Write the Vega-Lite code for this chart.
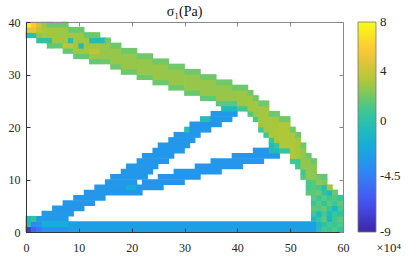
{
  "$schema": "https://vega.github.io/schema/vega-lite/v6.json",
  "width": 317,
  "height": 210,
  "autosize": {"type": "none"},
  "padding": {"left": 26, "top": 22, "right": 68, "bottom": 25},
  "background": "white",
  "config": {"font": "Liberation Serif", "view": {"stroke": null}},
  "title": {"text": "σ₁(Pa)", "fontSize": 14, "fontWeight": "normal", "font": "Liberation Serif", "color": "#111", "offset": 1, "dy": 4, "frame": "group", "anchor": "middle"},
  "data": {"values": [
    {"x0":0,"x1":1,"y0":0,"y1":1,"v":-7.8},
    {"x0":1,"x1":2,"y0":0,"y1":1,"v":-5.8},
    {"x0":2,"x1":3,"y0":0,"y1":1,"v":-4.8},
    {"x0":3,"x1":8,"y0":0,"y1":1,"v":-3.7},
    {"x0":0,"x1":1,"y0":1,"y1":2,"v":-0.6},
    {"x0":1,"x1":2,"y0":1,"y1":2,"v":-4.2},
    {"x0":2,"x1":3,"y0":1,"y1":2,"v":-3.6},
    {"x0":3,"x1":8,"y0":1,"y1":2,"v":-1.8},
    {"x0":8,"x1":55,"y0":0,"y1":2,"v":-2.7},
    {"x0":0,"x1":1,"y0":2,"y1":3,"v":-0.6},
    {"x0":1,"x1":2,"y0":2,"y1":3,"v":0.3},
    {"x0":2,"x1":8,"y0":2,"y1":3,"v":-3.0},
    {"x0":3,"x1":9,"y0":3,"y1":4,"v":-3.1},
    {"x0":5,"x1":11,"y0":4,"y1":5,"v":-3.2},
    {"x0":7,"x1":13,"y0":5,"y1":6,"v":-3.2},
    {"x0":9,"x1":15,"y0":6,"y1":7,"v":-3.2},
    {"x0":11,"x1":22,"y0":7,"y1":8,"v":-3.2},
    {"x0":13,"x1":19,"y0":8,"y1":9,"v":-3.2},
    {"x0":19,"x1":21,"y0":8,"y1":9,"v":-2.0},
    {"x0":21,"x1":26,"y0":8,"y1":9,"v":-3.3},
    {"x0":15,"x1":21,"y0":9,"y1":10,"v":-3.1},
    {"x0":22,"x1":30,"y0":9,"y1":10,"v":-3.4},
    {"x0":16,"x1":23,"y0":10,"y1":11,"v":-3.2},
    {"x0":25,"x1":33,"y0":10,"y1":11,"v":-3.4},
    {"x0":18,"x1":24,"y0":11,"y1":12,"v":-3.2},
    {"x0":28,"x1":37,"y0":11,"y1":12,"v":-3.3},
    {"x0":19,"x1":25,"y0":12,"y1":13,"v":-3.2},
    {"x0":32,"x1":41,"y0":12,"y1":13,"v":-3.3},
    {"x0":21,"x1":27,"y0":13,"y1":14,"v":-3.2},
    {"x0":35,"x1":45,"y0":13,"y1":14,"v":-3.3},
    {"x0":22,"x1":28,"y0":14,"y1":15,"v":-3.2},
    {"x0":39,"x1":48,"y0":14,"y1":15,"v":-3.3},
    {"x0":24,"x1":30,"y0":15,"y1":16,"v":-3.2},
    {"x0":43,"x1":46,"y0":15,"y1":16,"v":-3.3},
    {"x0":46,"x1":48,"y0":15,"y1":16,"v":-0.8},
    {"x0":25,"x1":31,"y0":16,"y1":17,"v":-3.2},
    {"x0":46,"x1":47,"y0":16,"y1":17,"v":-0.8},
    {"x0":27,"x1":32,"y0":17,"y1":18,"v":-3.2},
    {"x0":28,"x1":33,"y0":18,"y1":19,"v":-3.2},
    {"x0":30,"x1":31,"y0":19,"y1":20,"v":-0.2},
    {"x0":31,"x1":35,"y0":19,"y1":20,"v":-3.2},
    {"x0":31,"x1":37,"y0":20,"y1":21,"v":-3.4},
    {"x0":33,"x1":35,"y0":21,"y1":22,"v":-0.6},
    {"x0":35,"x1":39,"y0":21,"y1":22,"v":-3.1},
    {"x0":35,"x1":40,"y0":22,"y1":23,"v":-3.0},
    {"x0":37,"x1":40,"y0":23,"y1":24,"v":-1.0},
    {"x0":0,"x1":1,"y0":37,"y1":38,"v":-0.5},
    {"x0":0,"x1":1,"y0":38,"y1":39,"v":4.8},
    {"x0":0,"x1":1,"y0":39,"y1":40,"v":7.5},
    {"x0":1,"x1":2,"y0":37,"y1":38,"v":-0.3},
    {"x0":1,"x1":2,"y0":38,"y1":39,"v":5.0},
    {"x0":1,"x1":2,"y0":39,"y1":40,"v":5.8},
    {"x0":2,"x1":3,"y0":36,"y1":37,"v":0.2},
    {"x0":2,"x1":3,"y0":37,"y1":38,"v":2.5},
    {"x0":2,"x1":3,"y0":38,"y1":39,"v":3.6},
    {"x0":2,"x1":3,"y0":39,"y1":40,"v":4.2},
    {"x0":3,"x1":4,"y0":36,"y1":37,"v":0.2},
    {"x0":3,"x1":4,"y0":37,"y1":38,"v":3.0},
    {"x0":3,"x1":4,"y0":38,"y1":39,"v":3.2},
    {"x0":3,"x1":4,"y0":39,"y1":40,"v":3.0},
    {"x0":4,"x1":5,"y0":35,"y1":36,"v":1.6},
    {"x0":4,"x1":5,"y0":36,"y1":37,"v":0.2},
    {"x0":4,"x1":5,"y0":37,"y1":39,"v":2.9},
    {"x0":4,"x1":5,"y0":39,"y1":40,"v":1.8},
    {"x0":5,"x1":7,"y0":35,"y1":36,"v":1.6},
    {"x0":5,"x1":7,"y0":36,"y1":39,"v":2.9},
    {"x0":5,"x1":7,"y0":39,"y1":40,"v":1.8},
    {"x0":7,"x1":8,"y0":34,"y1":35,"v":1.6},
    {"x0":7,"x1":8,"y0":35,"y1":36,"v":3.6},
    {"x0":7,"x1":8,"y0":36,"y1":39,"v":2.9},
    {"x0":7,"x1":8,"y0":39,"y1":40,"v":1.8},
    {"x0":8,"x1":9,"y0":34,"y1":35,"v":1.6},
    {"x0":8,"x1":9,"y0":35,"y1":36,"v":3.6},
    {"x0":8,"x1":9,"y0":36,"y1":37,"v":-0.6},
    {"x0":8,"x1":9,"y0":37,"y1":38,"v":2.9},
    {"x0":8,"x1":9,"y0":38,"y1":39,"v":1.8},
    {"x0":9,"x1":10,"y0":33,"y1":34,"v":1.6},
    {"x0":9,"x1":10,"y0":34,"y1":38,"v":2.9},
    {"x0":9,"x1":10,"y0":38,"y1":39,"v":1.8},
    {"x0":10,"x1":11,"y0":33,"y1":34,"v":1.6},
    {"x0":10,"x1":11,"y0":34,"y1":35,"v":2.9},
    {"x0":10,"x1":11,"y0":35,"y1":36,"v":-0.8},
    {"x0":10,"x1":11,"y0":36,"y1":38,"v":2.9},
    {"x0":10,"x1":11,"y0":38,"y1":39,"v":1.8},
    {"x0":11,"x1":12,"y0":33,"y1":34,"v":1.6},
    {"x0":11,"x1":12,"y0":34,"y1":37,"v":2.9},
    {"x0":11,"x1":12,"y0":37,"y1":38,"v":1.8},
    {"x0":12,"x1":14,"y0":32,"y1":33,"v":1.6},
    {"x0":12,"x1":14,"y0":33,"y1":34,"v":2.9},
    {"x0":12,"x1":14,"y0":34,"y1":35,"v":3.5},
    {"x0":12,"x1":14,"y0":35,"y1":36,"v":2.9},
    {"x0":12,"x1":13,"y0":36,"y1":37,"v":-0.4},
    {"x0":13,"x1":14,"y0":36,"y1":37,"v":-0.8},
    {"x0":12,"x1":14,"y0":37,"y1":38,"v":1.8},
    {"x0":14,"x1":16,"y0":32,"y1":33,"v":1.8},
    {"x0":14,"x1":16,"y0":33,"y1":36,"v":2.7},
    {"x0":14,"x1":15,"y0":36,"y1":37,"v":-0.6},
    {"x0":15,"x1":16,"y0":36,"y1":37,"v":1.9},
    {"x0":16,"x1":18,"y0":31,"y1":32,"v":1.8},
    {"x0":16,"x1":18,"y0":32,"y1":35,"v":2.7},
    {"x0":16,"x1":18,"y0":35,"y1":36,"v":1.9},
    {"x0":18,"x1":21,"y0":30,"y1":31,"v":1.8},
    {"x0":18,"x1":21,"y0":31,"y1":34,"v":2.7},
    {"x0":18,"x1":21,"y0":34,"y1":35,"v":1.9},
    {"x0":21,"x1":24,"y0":29,"y1":30,"v":1.8},
    {"x0":21,"x1":24,"y0":30,"y1":33,"v":2.7},
    {"x0":21,"x1":24,"y0":33,"y1":34,"v":1.9},
    {"x0":24,"x1":27,"y0":28,"y1":29,"v":1.8},
    {"x0":24,"x1":27,"y0":29,"y1":32,"v":2.7},
    {"x0":24,"x1":27,"y0":32,"y1":33,"v":1.9},
    {"x0":27,"x1":30,"y0":27,"y1":28,"v":1.8},
    {"x0":27,"x1":30,"y0":28,"y1":31,"v":2.7},
    {"x0":27,"x1":30,"y0":31,"y1":32,"v":1.9},
    {"x0":30,"x1":33,"y0":26,"y1":27,"v":1.7},
    {"x0":30,"x1":33,"y0":27,"y1":30,"v":2.7},
    {"x0":30,"x1":33,"y0":30,"y1":31,"v":1.9},
    {"x0":33,"x1":36,"y0":25,"y1":26,"v":1.6},
    {"x0":33,"x1":36,"y0":26,"y1":29,"v":2.7},
    {"x0":33,"x1":36,"y0":29,"y1":30,"v":1.9},
    {"x0":36,"x1":39,"y0":24,"y1":25,"v":1.4},
    {"x0":36,"x1":39,"y0":25,"y1":28,"v":2.7},
    {"x0":36,"x1":39,"y0":28,"y1":29,"v":1.9},
    {"x0":39,"x1":40,"y0":24,"y1":25,"v":1.4},
    {"x0":39,"x1":40,"y0":25,"y1":27,"v":2.7},
    {"x0":39,"x1":40,"y0":27,"y1":28,"v":1.9},
    {"x0":40,"x1":42,"y0":23,"y1":24,"v":0.8},
    {"x0":40,"x1":42,"y0":24,"y1":27,"v":2.8},
    {"x0":40,"x1":42,"y0":27,"y1":28,"v":1.9},
    {"x0":42,"x1":43,"y0":22,"y1":23,"v":1.2},
    {"x0":42,"x1":43,"y0":23,"y1":26,"v":2.9},
    {"x0":42,"x1":43,"y0":26,"y1":27,"v":1.9},
    {"x0":43,"x1":44,"y0":21,"y1":22,"v":1.0},
    {"x0":43,"x1":44,"y0":22,"y1":25,"v":2.9},
    {"x0":43,"x1":44,"y0":25,"y1":26,"v":1.9},
    {"x0":44,"x1":45,"y0":19,"y1":20,"v":0.8},
    {"x0":44,"x1":45,"y0":20,"y1":24,"v":3.0},
    {"x0":44,"x1":45,"y0":24,"y1":25,"v":1.9},
    {"x0":45,"x1":46,"y0":18,"y1":19,"v":0.8},
    {"x0":45,"x1":46,"y0":19,"y1":24,"v":3.0},
    {"x0":45,"x1":46,"y0":24,"y1":25,"v":1.9},
    {"x0":46,"x1":47,"y0":17,"y1":18,"v":0.6},
    {"x0":46,"x1":47,"y0":18,"y1":22,"v":3.1},
    {"x0":46,"x1":47,"y0":22,"y1":23,"v":1.9},
    {"x0":47,"x1":48,"y0":16,"y1":17,"v":0.4},
    {"x0":47,"x1":48,"y0":17,"y1":22,"v":3.1},
    {"x0":47,"x1":48,"y0":22,"y1":23,"v":1.9},
    {"x0":48,"x1":50,"y0":15,"y1":16,"v":0.4},
    {"x0":48,"x1":50,"y0":16,"y1":21,"v":3.3},
    {"x0":48,"x1":50,"y0":21,"y1":22,"v":1.9},
    {"x0":50,"x1":51,"y0":13,"y1":14,"v":1.0},
    {"x0":50,"x1":51,"y0":14,"y1":19,"v":3.3},
    {"x0":50,"x1":51,"y0":19,"y1":20,"v":1.9},
    {"x0":51,"x1":52,"y0":12,"y1":13,"v":1.0},
    {"x0":51,"x1":52,"y0":13,"y1":14,"v":0.8},
    {"x0":51,"x1":52,"y0":14,"y1":18,"v":3.0},
    {"x0":51,"x1":52,"y0":18,"y1":19,"v":1.9},
    {"x0":52,"x1":53,"y0":10,"y1":11,"v":1.2},
    {"x0":52,"x1":53,"y0":11,"y1":12,"v":0.9},
    {"x0":52,"x1":53,"y0":12,"y1":16,"v":2.6},
    {"x0":52,"x1":53,"y0":16,"y1":17,"v":1.9},
    {"x0":53,"x1":54,"y0":7,"y1":8,"v":1.5},
    {"x0":53,"x1":54,"y0":8,"y1":10,"v":1.0},
    {"x0":53,"x1":54,"y0":10,"y1":14,"v":2.6},
    {"x0":53,"x1":54,"y0":14,"y1":15,"v":1.8},
    {"x0":54,"x1":55,"y0":2,"y1":3,"v":-0.8},
    {"x0":54,"x1":55,"y0":3,"y1":4,"v":0.8},
    {"x0":54,"x1":55,"y0":4,"y1":5,"v":1.5},
    {"x0":54,"x1":55,"y0":5,"y1":6,"v":0.5},
    {"x0":54,"x1":55,"y0":6,"y1":10,"v":1.4},
    {"x0":54,"x1":55,"y0":10,"y1":13,"v":2.5},
    {"x0":54,"x1":55,"y0":13,"y1":14,"v":1.8},
    {"x0":55,"x1":56,"y0":0,"y1":1,"v":-0.5},
    {"x0":55,"x1":56,"y0":1,"y1":2,"v":-0.8},
    {"x0":55,"x1":56,"y0":2,"y1":3,"v":0.3},
    {"x0":55,"x1":56,"y0":3,"y1":4,"v":-1.0},
    {"x0":55,"x1":56,"y0":4,"y1":5,"v":1.2},
    {"x0":55,"x1":56,"y0":5,"y1":6,"v":1.5},
    {"x0":55,"x1":56,"y0":6,"y1":7,"v":0.5},
    {"x0":55,"x1":56,"y0":7,"y1":8,"v":2.0},
    {"x0":55,"x1":56,"y0":8,"y1":9,"v":1.0},
    {"x0":55,"x1":56,"y0":9,"y1":10,"v":2.6},
    {"x0":55,"x1":56,"y0":10,"y1":11,"v":1.9},
    {"x0":56,"x1":57,"y0":0,"y1":1,"v":1.0},
    {"x0":56,"x1":57,"y0":1,"y1":2,"v":0.2},
    {"x0":56,"x1":57,"y0":2,"y1":3,"v":1.5},
    {"x0":56,"x1":57,"y0":3,"y1":4,"v":1.0},
    {"x0":56,"x1":57,"y0":4,"y1":5,"v":1.8},
    {"x0":56,"x1":57,"y0":5,"y1":6,"v":0.3},
    {"x0":56,"x1":57,"y0":6,"y1":7,"v":1.5},
    {"x0":56,"x1":57,"y0":7,"y1":8,"v":0.2},
    {"x0":56,"x1":57,"y0":8,"y1":9,"v":-0.5},
    {"x0":56,"x1":57,"y0":9,"y1":10,"v":2.2},
    {"x0":56,"x1":57,"y0":10,"y1":11,"v":1.6},
    {"x0":57,"x1":58,"y0":0,"y1":1,"v":0.5},
    {"x0":57,"x1":58,"y0":1,"y1":2,"v":1.0},
    {"x0":57,"x1":58,"y0":2,"y1":3,"v":-1.3},
    {"x0":57,"x1":58,"y0":3,"y1":4,"v":-0.8},
    {"x0":57,"x1":58,"y0":4,"y1":5,"v":0.5},
    {"x0":57,"x1":58,"y0":5,"y1":6,"v":1.5},
    {"x0":57,"x1":58,"y0":6,"y1":7,"v":0.8},
    {"x0":57,"x1":58,"y0":7,"y1":8,"v":-0.8},
    {"x0":57,"x1":58,"y0":8,"y1":9,"v":3.0},
    {"x0":58,"x1":59,"y0":0,"y1":1,"v":1.3},
    {"x0":58,"x1":59,"y0":1,"y1":2,"v":0.5},
    {"x0":58,"x1":59,"y0":2,"y1":3,"v":0.8},
    {"x0":58,"x1":59,"y0":3,"y1":4,"v":0.6},
    {"x0":58,"x1":59,"y0":4,"y1":5,"v":-1.2},
    {"x0":58,"x1":59,"y0":5,"y1":6,"v":0.5},
    {"x0":58,"x1":59,"y0":6,"y1":7,"v":1.2},
    {"x0":58,"x1":59,"y0":7,"y1":8,"v":1.8},
    {"x0":59,"x1":60,"y0":0,"y1":1,"v":0.4},
    {"x0":59,"x1":60,"y0":1,"y1":2,"v":1.2},
    {"x0":59,"x1":60,"y0":2,"y1":3,"v":1.5},
    {"x0":59,"x1":60,"y0":3,"y1":4,"v":0.2},
    {"x0":59,"x1":60,"y0":4,"y1":5,"v":1.0},
    {"x0":59,"x1":60,"y0":5,"y1":6,"v":1.6},
    {"x0":59,"x1":60,"y0":6,"y1":7,"v":0.5}
  ]},
  "layer": [
    {
      "mark": {"type": "rect", "xOffset": -0.35, "x2Offset": 0.35, "yOffset": 0.35, "y2Offset": -0.35},
      "encoding": {
        "x": {"field": "x0", "type": "quantitative", "scale": {"domain": [0, 60], "nice": false, "zero": false},
              "axis": {"orient": "bottom", "values": [0,10,20,30,40,50,60], "tickSize": -4, "labelPadding": 14, "grid": false, "title": null,
                       "domainColor": "#333", "tickColor": "#333", "labelColor": "#262626", "labelFont": "Liberation Serif", "labelFontSize": 12, "labelFlush": false, "zindex": 1}},
        "x2": {"field": "x1"},
        "y": {"field": "y0", "type": "quantitative", "scale": {"domain": [0, 40], "nice": false, "zero": false},
              "axis": {"orient": "left", "values": [0,10,20,30,40], "tickSize": -4, "labelPadding": 10, "grid": false, "title": null,
                       "domainColor": "#333", "tickColor": "#333", "labelColor": "#262626", "labelFont": "Liberation Serif", "labelFontSize": 12, "labelFlush": false, "zindex": 1}},
        "y2": {"field": "y1"},
        "color": {"field": "v", "type": "quantitative",
                  "scale": {"domain": [-9, 8], "range": ["#3E26A8","#4752F4","#2E87F7","#12B1D6","#37C897","#ABC739","#FEC338","#F9FB15"], "interpolate": "rgb"},
                  "legend": {"type": "gradient", "orient": "none", "legendX": 332, "legendY": 0, "direction": "vertical", "gradientLength": 210, "gradientThickness": 18,
                             "values": [-9, -4.5, 0, 4, 8], "labelExpr": "replace(format(datum.value, '.2~f'), '−', '-')", "labelFont": "Liberation Serif", "labelFontSize": 13, "labelColor": "#262626", "labelOffset": 4,
                             "gradientStrokeColor": "#777", "gradientStrokeWidth": 0.8,
                             "encode": {"labels": {"update": {"baseline": {"value": "middle"}}}},
                             "title": "×10⁴", "titleOrient": "bottom", "titleAnchor": "end", "titleFont": "Liberation Serif", "titleFontSize": 13, "titleFontWeight": "normal", "titleColor": "#262626", "titlePadding": 3}}
      }
    },
    {
      "mark": {"type": "rect", "opacity": 0},
      "encoding": {
        "x": {"field": "x0", "type": "quantitative", "axis": {"orient": "top", "values": [0,10,20,30,40,50,60], "tickSize": -4, "labels": false, "grid": false, "title": null, "domainColor": "#888", "tickColor": "#888", "zindex": 1}},
        "x2": {"field": "x1"},
        "y": {"field": "y0", "type": "quantitative", "axis": {"orient": "right", "values": [0,10,20,30,40], "tickSize": -4, "labels": false, "grid": false, "title": null, "domainColor": "#888", "tickColor": "#888", "zindex": 1}},
        "y2": {"field": "y1"}
      }
    }
  ],
  "resolve": {"axis": {"x": "independent", "y": "independent"}}
}
